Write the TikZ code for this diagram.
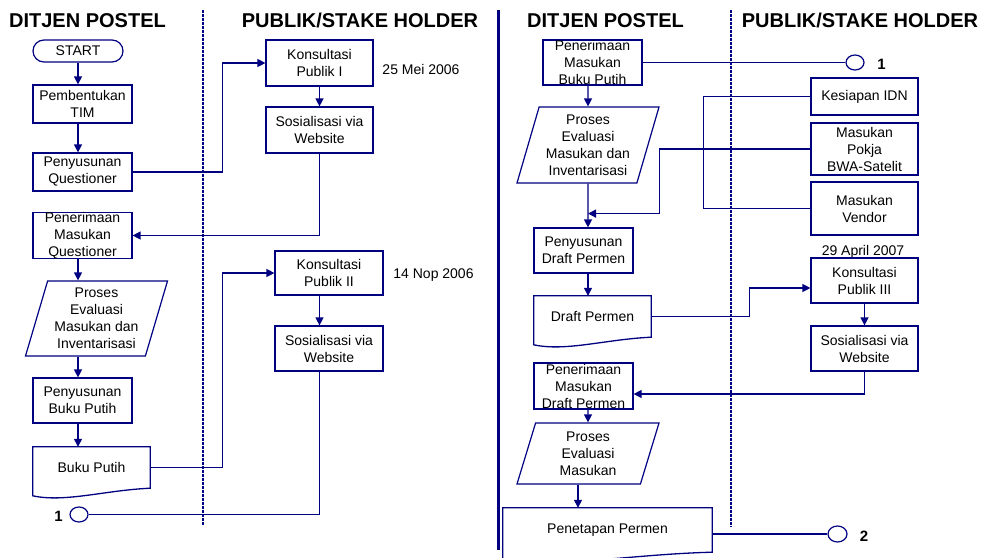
\documentclass[tikz,border=0pt]{standalone}
\usepackage{fontspec}
\setmainfont{Liberation Sans}
\usetikzlibrary{shapes.geometric,arrows.meta,calc}
\definecolor{navy}{RGB}{0,0,128}

\begin{document}
\begin{tikzpicture}[x=1pt,y=1pt]
            \tikzstyle{every node}+=[inner sep=0pt, align=center, font=\fontsize{14}{17}\selectfont]
            \tikzstyle{garis}=[navy, line width=1.3pt]
            \tikzstyle{panah}=[garis, -{Triangle[length=8pt,width=8pt]}]
            \tikzstyle{kotak}=[draw=navy, line width=1.2pt, minimum width=99, minimum height=45]
            \tikzstyle{kotakpublik}=[kotak, minimum width=107]
            \tikzstyle{jajar}=[draw=navy, line width=1.2pt, trapezium, trapezium left angle=70, trapezium right angle=110, trapezium stretches body, minimum width=142, minimum height=75]
            \tikzstyle{dokumen}=[minimum width=117, minimum height=41]
            \tikzstyle{konektor}=[draw=navy, line width=1.2pt, ellipse, minimum width=18, minimum height=15]
            \tikzstyle{judul}=[anchor=base, font=\fontsize{20}{24}\selectfont\bfseries]
            \tikzstyle{angka}=[font=\fontsize{15}{18}\selectfont\bfseries]
            \tikzstyle{jalur}=[navy, line width=1.3pt, dash pattern=on 2.5pt off 1.5pt]
            \useasboundingbox (0,0) rectangle (982,-557);
            % judul kolom
            \node[judul] (judul1) at (87.5,-27) {DITJEN POSTEL};
            \node[judul] (judul2) at (360,-27) {PUBLIK/STAKE HOLDER};
            \node[judul] (judul3) at (605.5,-27) {DITJEN POSTEL};
            \node[judul] (judul4) at (860,-27) {PUBLIK/STAKE HOLDER};
            % garis pemisah
            \draw[jalur] (203,-10) -- (203,-525);
            \draw[navy, line width=3pt] (498,-10) -- (498,-550);
            \draw[jalur] (731,-10) -- (731,-527);
            % bagian kiri
            \node[kotak, rounded corners=11, minimum width=90, minimum height=22] (start) at (78,-51) {START};
            \node[kotak, minimum height=38] (bentuk) at (82.5,-104) {Pembentukan\\TIM};
            \node[kotak, minimum height=38] (susunq) at (82.5,-172) {Penyusunan\\Questioner};
            \node[kotak] (terimaq) at (82.5,-235.5) {Penerimaan\\Masukan\\Questioner};
            \node[jajar] (evaluasi1) at (96.5,-318.5) {Proses\\Evaluasi\\Masukan dan\\Inventarisasi};
            \node[kotak] (susunbp) at (82.5,-400.5) {Penyusunan\\Buku Putih};
            \node[dokumen] (bukuputih) at (91.5,-467.5) {Buku Putih};
            \draw[garis] (bukuputih.north west) -- (bukuputih.north east) -- (bukuputih.south east) .. controls +(-45,-2) and +(32,-7) .. ($(bukuputih.north west)+(0,-49)$) -- cycle;
            \node[konektor] (ke1a) at (79,-514.5) {};
            \node[angka] (angka1a) at (58.5,-516) {1};
            \node[kotakpublik, minimum height=46] (kons1) at (319.5,-63) {Konsultasi\\Publik I};
            \node[anchor=base] (tgl1) at (421,-74) {25 Mei 2006};
            \node[kotakpublik, minimum height=46] (sos1) at (319.5,-130) {Sosialisasi via\\Website};
            \node[kotakpublik, minimum width=108, minimum height=44] (kons2) at (329,-273) {Konsultasi\\Publik II};
            \node[anchor=base] (tgl2) at (433.5,-278) {14 Nop 2006};
            \node[kotakpublik, minimum width=108] (sos2) at (329,-348.5) {Sosialisasi via\\Website};
            \draw[panah] (start) -- (start |- bentuk.north);
            \draw[panah] (bentuk.south -| start) -- (susunq.north -| start);
            \draw[panah] (susunq.east) -- ++(90,0) |- (kons1.west);
            \draw[panah] (kons1) -- (sos1);
            \draw[panah] (sos1.south) |- (terimaq.east);
            \draw[panah] (terimaq.south -| start) -- (evaluasi1.north -| start);
            \draw[panah] (evaluasi1.south -| start) -- (susunbp.north -| start);
            \draw[panah] (susunbp.south -| start) -- (bukuputih.north -| start);
            \draw[panah] (bukuputih.east) -- ++(72,0) |- (kons2.west);
            \draw[panah] (kons2.south -| sos1) -- (sos2.north -| sos1);
            \draw[garis] (sos2.south -| sos1) |- (ke1a.east);
            % bagian kanan
            \node[kotak] (terimabp) at (592.5,-62.5) {Penerimaan\\Masukan\\Buku Putih};
            \node[konektor] (ke1b) at (855,-62.5) {};
            \node[angka] (angka1b) at (881.5,-64) {1};
            \node[jajar, minimum height=76] (evaluasi2) at (588,-145) {Proses\\Evaluasi\\Masukan dan\\Inventarisasi};
            \node[kotakpublik, minimum height=37] (idn) at (864.5,-96.5) {Kesiapan IDN};
            \node[kotakpublik, minimum height=52] (pokja) at (864.5,-149) {Masukan\\Pokja\\BWA-Satelit};
            \node[kotakpublik, minimum height=53] (vendor) at (864.5,-208.5) {Masukan\\Vendor};
            \node[kotak] (susundraft) at (583.5,-250.5) {Penyusunan\\Draft Permen};
            \node[dokumen] (draft) at (592.5,-316.5) {Draft Permen};
            \draw[garis] (draft.north west) -- (draft.north east) -- (draft.south east) .. controls +(-45,-2) and +(32,-7) .. ($(draft.north west)+(0,-49)$) -- cycle;
            \node[anchor=base] (tgl3) at (863,-255.5) {29 April 2007};
            \node[kotakpublik] (kons3) at (864.5,-280.5) {Konsultasi\\Publik III};
            \node[kotakpublik] (sos3) at (864.5,-348.5) {Sosialisasi via\\Website};
            \node[kotak, minimum height=46] (terimadraft) at (583.5,-386) {Penerimaan\\Masukan\\Draft Permen};
            \node[jajar, minimum height=61, trapezium left angle=67, trapezium right angle=113] (evaluasi3) at (588,-453.5) {Proses\\Evaluasi\\Masukan};
            \node[dokumen, minimum width=209, minimum height=44] (tetap) at (607.5,-530) {Penetapan Permen};
            \draw[garis] (tetap.north west) -- (tetap.north east) -- (tetap.south east) .. controls +(-80,-2) and +(60,-8) .. ($(tetap.north west)+(0,-52)$) -- cycle;
            \node[konektor, minimum width=19, minimum height=16] (ke2) at (837.5,-534) {};
            \node[angka] (angka2) at (864,-536) {2};
            \coordinate (gabung) at ($(evaluasi2.south)+(0,-30)$);
            \coordinate (turun) at ($(evaluasi3.south)+(-10,0)$);
            \draw[garis] (terimabp.east) -- (ke1b.west);
            \draw[panah] (terimabp.south -| evaluasi2) -- (evaluasi2.north);
            \draw[panah] (evaluasi2.south) -- (susundraft.north -| evaluasi2);
            \draw[garis] (idn.west) -- ++(-107,0) |- (vendor.west);
            \draw[panah] (pokja.west) -- ++(-151,0) |- (gabung);
            \draw[panah] (susundraft.south -| evaluasi2) -- (draft.north -| evaluasi2);
            \draw[panah] (draft.east) -- ++(98,0) |- ($(kons3.west)+(0,-7.5)$);
            \draw[panah] (kons3) -- (sos3);
            \draw[panah] (sos3.south) |- ($(terimadraft.east)+(0,-8)$);
            \draw[panah] (terimadraft.south -| evaluasi2) -- (evaluasi3.north);
            \draw[panah] (turun) -- (turun |- tetap.north);
            \draw[garis] (tetap.east |- ke2) -- (ke2.west);
\end{tikzpicture}
\end{document}
